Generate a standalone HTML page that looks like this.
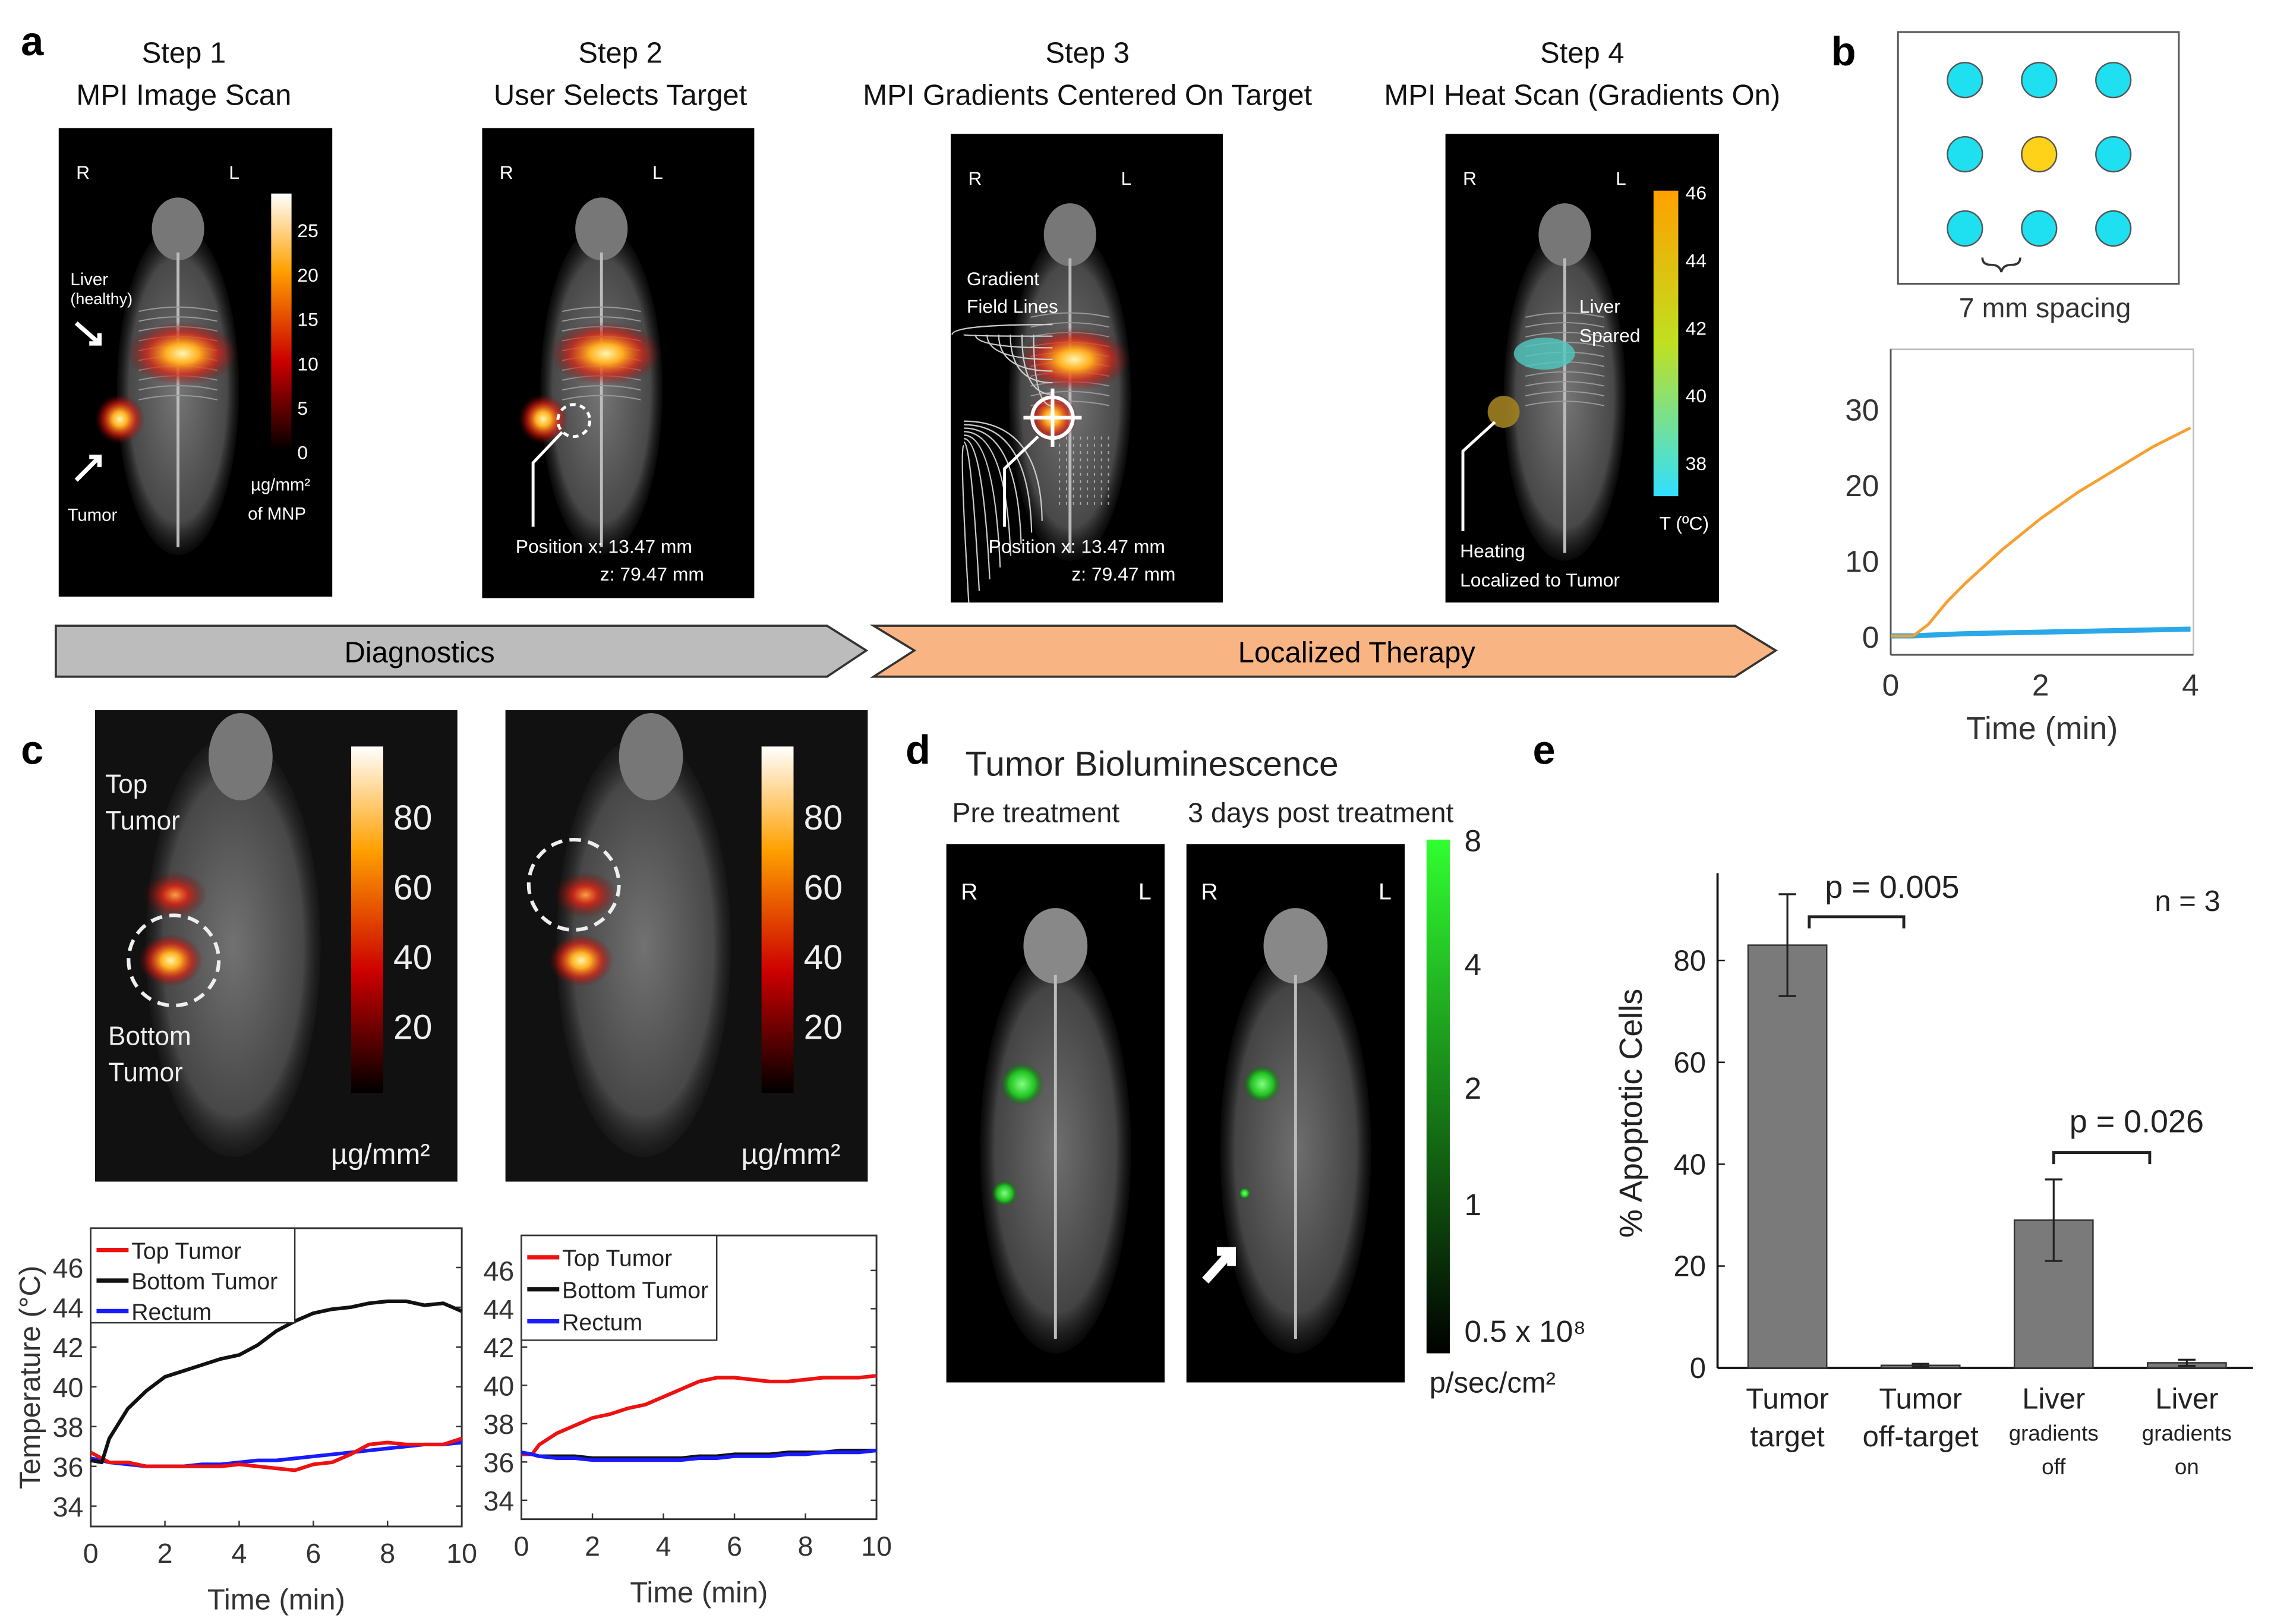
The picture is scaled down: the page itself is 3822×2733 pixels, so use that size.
<!DOCTYPE html>
<html><head><meta charset="utf-8"><style>
html,body{margin:0;padding:0;background:#fff}
svg{display:block}
text{font-family:"Liberation Sans",sans-serif}
</style></head><body>
<svg id="fig" width="3822" height="2733" viewBox="0 0 1560 1116" xmlns="http://www.w3.org/2000/svg">
<defs>
<radialGradient id="glowHot"><stop offset="0" stop-color="#fff6b0"/><stop offset="0.3" stop-color="#ffb020"/><stop offset="0.65" stop-color="#e02010" stop-opacity="0.7"/><stop offset="1" stop-color="#800" stop-opacity="0"/></radialGradient>
<radialGradient id="glowRed"><stop offset="0" stop-color="#ffa040"/><stop offset="0.4" stop-color="#e02010" stop-opacity="0.8"/><stop offset="1" stop-color="#600" stop-opacity="0"/></radialGradient>
<radialGradient id="glowGreen"><stop offset="0" stop-color="#80ff80"/><stop offset="0.6" stop-color="#20c020"/><stop offset="1" stop-color="#060" stop-opacity="0"/></radialGradient>
<radialGradient id="mouseG"><stop offset="0" stop-color="#8a8a8a"/><stop offset="0.8" stop-color="#555"/><stop offset="1" stop-color="#333" stop-opacity="0.2"/></radialGradient>
<linearGradient id="cbHot" x1="0" y1="1" x2="0" y2="0"><stop offset="0" stop-color="#000"/><stop offset="0.35" stop-color="#c00"/><stop offset="0.7" stop-color="#ffa000"/><stop offset="1" stop-color="#fff"/></linearGradient>
<linearGradient id="cbTemp" x1="0" y1="1" x2="0" y2="0"><stop offset="0" stop-color="#30e0ff"/><stop offset="0.5" stop-color="#c0e020"/><stop offset="1" stop-color="#ffa000"/></linearGradient>
<linearGradient id="cbGreen" x1="0" y1="1" x2="0" y2="0"><stop offset="0" stop-color="#000"/><stop offset="1" stop-color="#30ff30"/></linearGradient>
</defs>

<text x="14" y="38" font-size="28" font-weight="bold">a</text>
<g font-size="20" text-anchor="middle" fill="#111">
<text x="126" y="43">Step 1</text><text x="126" y="72">MPI Image Scan</text>
<text x="426" y="43">Step 2</text><text x="426" y="72">User Selects Target</text>
<text x="747" y="43">Step 3</text><text x="747" y="72">MPI Gradients Centered On Target</text>
<text x="1087" y="43">Step 4</text><text x="1087" y="72">MPI Heat Scan (Gradients On)</text>
</g>
<g id="aImgs"></g>
<polygon points="38,430 568,430 595,447 568,465 38,465" fill="#bcbcbc" stroke="#333" stroke-width="1.5"/>
<text x="288" y="455" font-size="20" text-anchor="middle">Diagnostics</text>
<polygon points="600,430 1192,430 1220,447 1192,465 600,465 628,447" fill="#f8b482" stroke="#333" stroke-width="1.5"/>
<text x="932" y="455" font-size="20" text-anchor="middle">Localized Therapy</text>

<text x="1258" y="45" font-size="28" font-weight="bold">b</text>
<rect x="1304" y="22" width="193" height="173" fill="#fff" stroke="#555" stroke-width="1.2"/>
<g id="wells"></g>
<path d="M1362,177 q0,5 6,5 q6,0 7,5 q1,-5 7,-5 q6,0 6,-5" fill="none" stroke="#333" stroke-width="1.5"/>
<text x="1405" y="218" font-size="19" text-anchor="middle" fill="#333">7 mm spacing</text>
<g id="chartB"></g>

<text x="14" y="525" font-size="28" font-weight="bold">c</text>
<g id="cImgs"></g>
<g id="chartC1"></g>
<g id="chartC2"></g>

<text x="622" y="525" font-size="28" font-weight="bold">d</text>
<text x="663" y="533" font-size="24" fill="#222">Tumor Bioluminescence</text>
<text x="654" y="565" font-size="19" fill="#222">Pre treatment</text>
<text x="816" y="565" font-size="19" fill="#222">3 days post treatment</text>
<g id="dImgs"></g>

<text x="1053" y="525" font-size="28" font-weight="bold">e</text>
<g id="chartE"></g>
</svg>
<script>
const NS='http://www.w3.org/2000/svg';
function el(tag,attrs,parent,txt){const e=document.createElementNS(NS,tag);for(const k in attrs)e.setAttribute(k,attrs[k]);if(txt!==undefined)e.textContent=txt;parent.appendChild(e);return e;}
const G=id=>document.getElementById(id);

const bTimes=[0,0.3,0.5,0.75,1,1.5,2,2.5,3,3.5,4];
const bTarget=[0,0,1.5,4.5,7,11.5,15.5,19,22,25,27.5];
const bOthers=[0,0,0.1,0.2,0.3,0.4,0.5,0.6,0.7,0.8,0.9];
const bYTicks=[0,10,20,30];
const bXTicks=[0,2,4];

const cTimes=[0,0.3,0.5,1,1.5,2,2.5,3,3.5,4,4.5,5,5.5,6,6.5,7,7.5,8,8.5,9,9.5,10];
const c1Top=[36.7,36.4,36.2,36.2,36.0,36.0,36.0,36.0,36.0,36.1,36.0,35.9,35.8,36.1,36.2,36.6,37.1,37.2,37.1,37.1,37.1,37.4];
const c1Bottom=[36.3,36.2,37.4,38.9,39.8,40.5,40.8,41.1,41.4,41.6,42.1,42.8,43.3,43.7,43.9,44.0,44.2,44.3,44.3,44.1,44.2,43.8];
const c1Rectum=[36.4,36.3,36.2,36.1,36.0,36.0,36.0,36.1,36.1,36.2,36.3,36.3,36.4,36.5,36.6,36.7,36.8,36.9,37.0,37.1,37.1,37.2];
const c2Top=[36.4,36.4,36.9,37.5,37.9,38.3,38.5,38.8,39.0,39.4,39.8,40.2,40.4,40.4,40.3,40.2,40.2,40.3,40.4,40.4,40.4,40.5];
const c2Bottom=[36.5,36.4,36.3,36.3,36.3,36.2,36.2,36.2,36.2,36.2,36.2,36.3,36.3,36.4,36.4,36.4,36.5,36.5,36.5,36.6,36.6,36.6];
const c2Rectum=[36.5,36.4,36.3,36.2,36.2,36.1,36.1,36.1,36.1,36.1,36.1,36.2,36.2,36.3,36.3,36.3,36.4,36.4,36.5,36.5,36.5,36.6];
const cYTicks=[34,36,38,40,42,44,46];
const cXTicks=[0,2,4,6,8,10];

const eCats=[["Tumor","target"],["Tumor","off-target"],["Liver","gradients","off"],["Liver","gradients","on"]];
const eValues=[83,0.5,29,1];
const eErrors=[10,0.3,8,0.6];
const eYTicks=[0,20,40,60,80];

const aI=G('aImgs');
function mouse(g,cx,top,h,w){
  el('ellipse',{cx:cx,cy:top+h*0.5,rx:w*0.28,ry:h*0.42,fill:'url(#mouseG)',opacity:0.85},g);
  el('ellipse',{cx:cx,cy:top+h*0.09,rx:w*0.12,ry:h*0.08,fill:'#777'},g);
  el('line',{x1:cx,y1:top+h*0.15,x2:cx,y2:top+h*0.9,stroke:'#bbb','stroke-width':2},g);
  for(let i=0;i<10;i++){el('path',{d:`M${cx-w*0.18},${top+h*(0.3+i*0.025)} q${w*0.18},-6 ${w*0.36},0`,fill:'none',stroke:'#999','stroke-width':0.8},g);}
}
const aPanels=[[40,88,188,322],[331,88,187,323],[653,92,187,322],[993,92,188,322]];
aPanels.forEach((p,i)=>{
  const g=el('g',{},aI);
  
  
  el('rect',{x:p[0],y:p[1],width:p[2],height:p[3],fill:'#000'},g);
  el('text',{x:p[0]+12,y:p[1]+35,'font-size':13,fill:'#fff'},g,'R');
  el('text',{x:p[0]+117,y:p[1]+35,'font-size':13,fill:'#fff'},g,'L');
  mouse(g,p[0]+82,p[1]+45,270,150);
  if(i<3){
    el('ellipse',{cx:p[0]+85,cy:p[1]+155,rx:38,ry:22,fill:'url(#glowHot)'},g);
    el('circle',{cx:p[0]+(i==2?70:42),cy:p[1]+(i==2?195:200),r:17,fill:'url(#glowHot)'},g);
  }
});
(function(){const g=aI;
 el('rect',{x:186,y:133,width:14,height:177,fill:'url(#cbHot)'},g);
 [25,20,15,10,5,0].forEach((v,k)=>el('text',{x:204,y:163+k*30.5,'font-size':13,fill:'#fff'},g,String(v)));
 el('text',{x:172,y:337,'font-size':12,fill:'#fff'},g,'µg/mm²');
 el('text',{x:170,y:357,'font-size':12,fill:'#fff'},g,'of MNP');
 el('text',{x:48,y:196,'font-size':12,fill:'#fff'},g,'Liver');
 el('text',{x:48,y:209,'font-size':11,fill:'#fff'},g,'(healthy)');
 el('text',{x:46,y:358,'font-size':12,fill:'#fff'},g,'Tumor');
 el('path',{d:'M52,222 L68,236 M61,236 L68,236 L68,229',stroke:'#fff','stroke-width':3,fill:'none'},g);
 el('path',{d:'M52,330 L68,314 M61,314 L68,314 L68,321',stroke:'#fff','stroke-width':3,fill:'none'},g);
 el('circle',{cx:394,cy:289,r:11,fill:'none',stroke:'#fff','stroke-width':2,'stroke-dasharray':'4 3'},g);
 el('path',{d:'M386,297 L366,318 L366,362',stroke:'#fff','stroke-width':2,fill:'none'},g);
 el('text',{x:354,y:380,'font-size':13,fill:'#fff'},g,'Position x: 13.47 mm');
 el('text',{x:412,y:399,'font-size':13,fill:'#fff'},g,'z: 79.47 mm');
 // step3 field lines: nested arcs around target
 for(let k=1;k<=8;k++){const r=k*8;
   el('path',{d:`M${723-r-5},230 Q${723-r-5},${287-r} ${723},${287-r}`,fill:'none',stroke:'#ccc','stroke-width':0.9},g);
   el('path',{d:`M${662},${287+r*0.3} Q${723-r},${287+r*0.3} ${723-r*0.9},${350+r}`,fill:'none',stroke:'#ccc','stroke-width':0.9},g);
   el('path',{d:`M${723+r*0.6},${300} L${723+r*0.6},${350}`,fill:'none',stroke:'#aaa','stroke-width':0.8,'stroke-dasharray':'2 3'},g);
 }
 el('circle',{cx:723,cy:287,r:14,fill:'none',stroke:'#fff','stroke-width':2.5},g);
 el('path',{d:'M703,287 H743 M723,267 V307',stroke:'#fff','stroke-width':2.5},g);
 el('path',{d:'M713,300 L690,322 L690,362',stroke:'#fff','stroke-width':2,fill:'none'},g);
 el('text',{x:664,y:196,'font-size':13,fill:'#fff'},g,'Gradient');
 el('text',{x:664,y:215,'font-size':13,fill:'#fff'},g,'Field Lines');
 el('text',{x:679,y:380,'font-size':13,fill:'#fff'},g,'Position x: 13.47 mm');
 el('text',{x:736,y:399,'font-size':13,fill:'#fff'},g,'z: 79.47 mm');
 el('ellipse',{cx:1061,cy:243,rx:21,ry:11,fill:'#50c8c0',opacity:0.8},g);
 el('circle',{cx:1033,cy:283,r:11,fill:'#a08020',opacity:0.9},g);
 el('path',{d:'M1027,290 L1005,310 L1005,365',stroke:'#fff','stroke-width':2,fill:'none'},g);
 el('text',{x:1085,y:215,'font-size':13,fill:'#fff'},g,'Liver');
 el('text',{x:1085,y:235,'font-size':13,fill:'#fff'},g,'Spared');
 el('text',{x:1003,y:383,'font-size':13,fill:'#fff'},g,'Heating');
 el('text',{x:1003,y:403,'font-size':13,fill:'#fff'},g,'Localized to Tumor');
 el('rect',{x:1136,y:131,width:17,height:210,fill:'url(#cbTemp)'},g);
 [46,44,42,40,38].forEach((v,k)=>el('text',{x:1158,y:137+k*46.5,'font-size':13,fill:'#fff'},g,String(v)));
 el('text',{x:1140,y:364,'font-size':13,fill:'#fff'},g,'T (ºC)');
})();

const W=G('wells');
for(let r=0;r<3;r++)for(let c=0;c<3;c++){const w=el('circle',{cx:1350+c*51,cy:55+r*51,r:12,fill:(r==1&&c==1)?'#ffd21a':'#1ee0f0',stroke:'#555','stroke-width':1},W);
 
 }

(function(){const g=G('chartB');
 const x0=1299,x1=1507,y0=240,y1=450;
 const X=v=>x0+(v-0)/4*(1505-x0), Y=v=>437-v*5.2;
 const ax=el('rect',{x:x0,y:y0,width:x1-x0,height:y1-y0,fill:'none',stroke:'#bbb','stroke-width':1},g);
 
 
 el('line',{x1:x0,y1:y0,x2:x0,y2:y1,stroke:'#555','stroke-width':1.2},g);
 el('line',{x1:x0,y1:y1,x2:x1,y2:y1,stroke:'#555','stroke-width':1.2},g);
 bYTicks.forEach(v=>{const t=el('text',{x:x0-8,y:Y(v)+8,'font-size':21,'text-anchor':'end',fill:'#333'},g,String(v));
   
   });
 bXTicks.forEach(v=>{const t=el('text',{x:X(v),y:y1+28,'font-size':21,'text-anchor':'middle',fill:'#333'},g,String(v));
   
   });
 const xt=el('text',{x:1403,y:508,'font-size':22,'text-anchor':'middle',fill:'#333'},g,'Time (min)');
 
 
 const pts=a=>a.map((v,i)=>X(bTimes[i])+','+Y(v)).join(' ');
 for(let k=0;k<3;k++){const l=el('polyline',{points:bOthers.map((v,i)=>X(bTimes[i])+','+(Y(v)+k-1)).join(' '),fill:'none',stroke:'#2aa8e8','stroke-width':1.5},g);
   
   }
 const l=el('polyline',{points:pts(bTarget),fill:'none',stroke:'#f5a030','stroke-width':2,'stroke-linejoin':'round'},g);
 
 
})();

(function(){const g=G('cImgs');
 [[65,'c-image-before'],[347,'c-image-after']].forEach(([x,n],i)=>{
  const gg=el('g',{},g);
  
  
  el('rect',{x:x,y:488,width:249,height:324,fill:'#111'},gg);
  el('ellipse',{cx:x+95,cy:650,rx:60,ry:145,fill:'url(#mouseG)',opacity:0.8},gg);
  el('ellipse',{cx:x+100,cy:520,rx:22,ry:30,fill:'#777'},gg);
  el('ellipse',{cx:x+55,cy:615,rx:22,ry:16,fill:'url(#glowRed)'},gg);
  el('ellipse',{cx:x+52,cy:660,rx:22,ry:18,fill:'url(#glowHot)'},gg);
  el('rect',{x:x+176,y:513,width:22,height:238,fill:'url(#cbHot)'},gg);
  [80,60,40,20].forEach((v,k)=>el('text',{x:x+205,y:570+k*48,'font-size':24,fill:'#eee'},gg,String(v)));
  el('text',{x:x+162,y:800,'font-size':20,fill:'#eee'},gg,'µg/mm²');
 });
 el('text',{x:72,y:545,'font-size':18,fill:'#eee'},g,'Top');
 el('text',{x:72,y:570,'font-size':18,fill:'#eee'},g,'Tumor');
 el('text',{x:74,y:718,'font-size':18,fill:'#eee'},g,'Bottom');
 el('text',{x:74,y:743,'font-size':18,fill:'#eee'},g,'Tumor');
 el('circle',{cx:119,cy:660,r:31,fill:'none',stroke:'#eee','stroke-width':2.5,'stroke-dasharray':'8 5'},g);
 el('circle',{cx:394,cy:608,r:31,fill:'none',stroke:'#eee','stroke-width':2.5,'stroke-dasharray':'8 5'},g);
})();

function chartC(id,x0,x1,yT,yB,y46,y34,top,bottom,rect,showTitle){
 const g=G(id);
 const X=v=>x0+v/10*(x1-x0), Y=v=>y34+(v-34)/12*(y46-y34);
 const ax=el('rect',{x:x0,y:yT,width:x1-x0,height:yB-yT,fill:'#fff',stroke:'#333','stroke-width':1.2},g);
 
 
 cYTicks.forEach(v=>{el('line',{x1:x0,y1:Y(v),x2:x0+4,y2:Y(v),stroke:'#333'},g);el('line',{x1:x1,y1:Y(v),x2:x1-4,y2:Y(v),stroke:'#333'},g);
  const t=el('text',{x:x0-5,y:Y(v)+7,'font-size':19,'text-anchor':'end',fill:'#333'},g,String(v));
  
  });
 cXTicks.forEach(v=>{el('line',{x1:X(v),y1:yB,x2:X(v),y2:yB-4,stroke:'#333'},g);
  const t=el('text',{x:X(v),y:yB+25,'font-size':19,'text-anchor':'middle',fill:'#333'},g,String(v));
  
  });
 const xt=el('text',{x:(x0+x1)/2,y:yB+57,'font-size':20,'text-anchor':'middle',fill:'#333'},g,'Time (min)');
 
 
 if(showTitle){const yt=el('text',{x:0,y:0,'font-size':20,'text-anchor':'middle',fill:'#333',transform:`translate(27,${(yT+yB)/2}) rotate(-90)`},g,'Temperature (°C)');
  
  }
 const series=[[rect,'#1a1aff','line-rectum'],[top,'#ee1111','line-top-tumor'],[bottom,'#111','line-bottom-tumor']];
 if(!showTitle) series.reverse();
 series.forEach(([a,c,n])=>{const l=el('polyline',{points:a.map((v,i)=>X(cTimes[i])+','+Y(v)).join(' '),fill:'none',stroke:c,'stroke-width':2.5,'stroke-linejoin':'round'},g);
  
  });
 const lg=el('g',{},g);
 
 
 el('rect',{x:x0,y:yT,width:(x1-x0)*0.55,height:(id=='chartC1'?65:72),fill:'#fff',stroke:'#333','stroke-width':1},lg);
 const sp=id=='chartC1'?21:22;
 [['Top Tumor','#ee1111'],['Bottom Tumor','#111'],['Rectum','#1a1aff']].forEach(([t,c],k)=>{
  const y=yT+15+k*sp;
  el('line',{x1:x0+4,y1:y,x2:x0+26,y2:y,stroke:c,'stroke-width':3},lg);
  el('text',{x:x0+28,y:y+6,'font-size':16,fill:'#222'},lg,t);
 });
}
chartC('chartC1',62,317,844,1049,871,1035,c1Top,c1Bottom,c1Rectum,true);
chartC('chartC2',358,602,849,1044,873,1031,c2Top,c2Bottom,c2Rectum,false);

(function(){const g=G('dImgs');
 [[650,'bli-pre-treatment'],[815,'bli-post-treatment']].forEach(([x,n],i)=>{
  const gg=el('g',{},g);
  
  
  el('rect',{x:x,y:580,width:150,height:370,fill:'#000'},gg);
  el('text',{x:x+10,y:618,'font-size':16,fill:'#fff'},gg,'R');
  el('text',{x:x+132,y:618,'font-size':16,fill:'#fff'},gg,'L');
  el('ellipse',{cx:x+75,cy:790,rx:52,ry:140,fill:'url(#mouseG)',opacity:0.8},gg);
  el('ellipse',{cx:x+75,cy:650,rx:22,ry:26,fill:'#888'},gg);
  el('line',{x1:x+75,y1:670,x2:x+75,y2:920,stroke:'#bbb','stroke-width':2},gg);
  el('circle',{cx:x+52,cy:745,r:i?13:15,fill:'url(#glowGreen)'},gg);
  el('circle',{cx:x+40,cy:820,r:i?4:9,fill:'url(#glowGreen)'},gg);
 });
 el('path',{d:'M828,880 L846,860 M836,860 L846,860 L846,870',stroke:'#fff','stroke-width':6,fill:'none'},g);
 const cb=el('rect',{x:980,y:577,width:16,height:353,fill:'url(#cbGreen)'},g);
 
 
 [[8,585],[4,670],[2,755],[1,835]].forEach(([v,y])=>el('text',{x:1006,y:y,'font-size':21,fill:'#222'},g,String(v)));
 el('text',{x:1006,y:922,'font-size':21,fill:'#222'},g,'0.5 x 10⁸');
 el('text',{x:982,y:957,'font-size':20,fill:'#222'},g,'p/sec/cm²');
})();

(function(){const g=G('chartE');
 const x0=1180,x1=1548,yB=940,yT=600;
 const Y=v=>yB-v*3.5, X=i=>1228+i*91.5;
 el('line',{x1:x0,y1:yT,x2:x0,y2:yB,stroke:'#111','stroke-width':1.5},g);
 el('line',{x1:x0,y1:yB,x2:x1,y2:yB,stroke:'#111','stroke-width':1.5},g);
 eYTicks.forEach(v=>{el('line',{x1:x0,y1:Y(v),x2:x0+5,y2:Y(v),stroke:'#111'},g);
  const t=el('text',{x:x0-8,y:Y(v)+7,'font-size':20,'text-anchor':'end',fill:'#222'},g,String(v));
  
  });
 const yt=el('text',{x:0,y:0,'font-size':22,'text-anchor':'middle',fill:'#222',transform:`translate(1128,765) rotate(-90)`},g,'% Apoptotic Cells');
 
 
 eValues.forEach((v,i)=>{
  const b=el('rect',{x:X(i)-27,y:Y(v),width:54,height:yB-Y(v),fill:'#7a7a7a',stroke:'#333','stroke-width':1},g);
  
  
  const e=el('path',{d:`M${X(i)},${Y(v+eErrors[i])} V${Y(v-eErrors[i])} M${X(i)-6},${Y(v+eErrors[i])} H${X(i)+6} M${X(i)-6},${Y(v-eErrors[i])} H${X(i)+6}`,stroke:'#222','stroke-width':1.3,fill:'none'},g);
  
  
  eCats[i].forEach((t,k)=>{const tx=el('text',{x:X(i),y:k<2?968+k*26:1013,'font-size':k==0?20:(i>=2&&k>=1?15:20),'text-anchor':'middle',fill:'#222'},g,t);
   if(i>=2&&k==1)tx.setAttribute('y',990);
   
   });
 });
 el('path',{d:'M1243,638 V630 H1308 V638',stroke:'#222','stroke-width':2,fill:'none'},g);
 el('text',{x:1300,y:617,'font-size':22,'text-anchor':'middle',fill:'#222'},g,'p = 0.005');
 el('path',{d:'M1411,800 V792 H1477 V800',stroke:'#222','stroke-width':2,fill:'none'},g);
 el('text',{x:1468,y:778,'font-size':22,'text-anchor':'middle',fill:'#222'},g,'p = 0.026');
 el('text',{x:1503,y:626,'font-size':20,'text-anchor':'middle',fill:'#222'},g,'n = 3');
})();
</script>
</body></html>
